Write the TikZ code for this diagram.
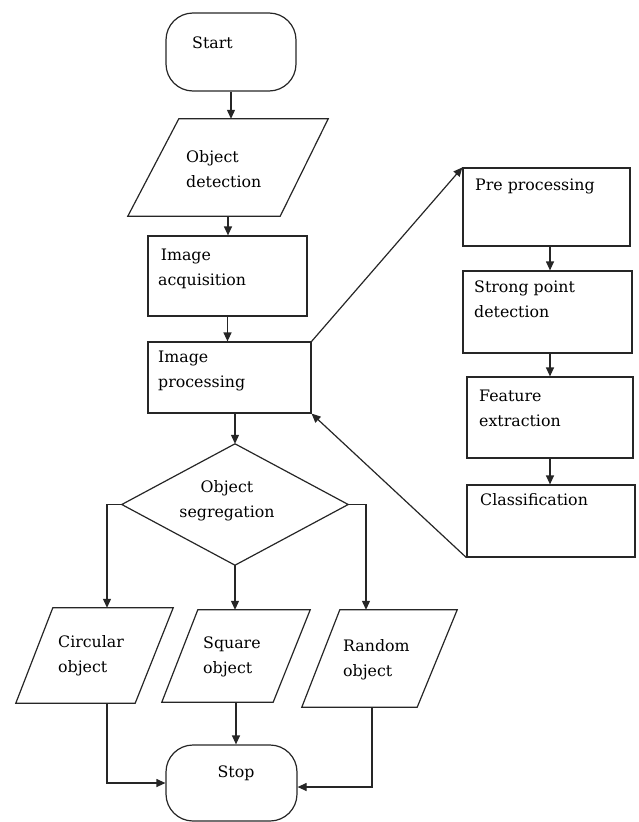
\documentclass[tikz,border=0pt]{standalone}
\usepackage{fontspec}
\setmainfont{DejaVu Serif}
\usetikzlibrary{arrows.meta,calc}
\begin{document}
\begin{tikzpicture}[x=1pt,y=-1pt,
  ln/.style={line width=1.2pt, draw=black!85},
  arr/.style={ln, -{Triangle[length=9pt,width=8pt]}},
  box/.style={ln, draw, rectangle, inner sep=0pt},
  term/.style={box, rounded corners=27pt},
  frame/.style={rectangle, inner sep=0pt},
  txt/.style={font=\fontsize{15.8}{25}\selectfont, align=left, inner sep=0pt, text=black, anchor=west}]
\useasboundingbox (0,0) rectangle (638,822);

% left column
\node[term, minimum width=130pt, minimum height=78pt] (start) at (231,52) {};
\node[txt] (startt) at (192,43) {Start};

\node[frame, minimum width=200pt, minimum height=97pt] (od) at (228,167.5) {};
\draw[ln] ([xshift=51pt]od.north west) -- (od.north east) -- ([xshift=-48pt]od.south east) -- (od.south west) -- cycle;
\node[txt] (odt) at (186,169.5) {Object\\detection};

\node[box, minimum width=159pt, minimum height=80pt] (ia) at (227.5,276) {};
\node[txt] (iat) at (158,269) {\,Image\\acquisition};

\node[box, minimum width=163pt, minimum height=71pt] (ip) at (229.5,377.5) {};
\node[txt] (ipt) at (158,371) {Image\\processing};

\node[frame, minimum width=226pt, minimum height=121pt] (seg) at (235,504.5) {};
\draw[ln] (seg.north) -- (seg.east) -- (seg.south) -- (seg.west) -- cycle;
\node[txt, align=center, anchor=center] (segt) at (227,501) {Object\\segregation};

\node[frame, minimum width=157pt, minimum height=95pt] (co) at (94.5,655.5) {};
\draw[ln] ([xshift=37pt]co.north west) -- (co.north east) -- ([xshift=-38pt]co.south east) -- (co.south west) -- cycle;
\node[txt] (cot) at (58,655.5) {Circular\\object};

\node[frame, minimum width=148pt, minimum height=92pt] (so) at (236,656) {};
\draw[ln] ([xshift=36pt]so.north west) -- (so.north east) -- ([xshift=-37pt]so.south east) -- (so.south west) -- cycle;
\node[txt] (sot) at (203,657) {Square\\object};

\node[frame, minimum width=155pt, minimum height=97pt] (ro) at (379.5,658.5) {};
\draw[ln] ([xshift=38pt]ro.north west) -- (ro.north east) -- ([xshift=-40pt]ro.south east) -- (ro.south west) -- cycle;
\node[txt] (rot) at (343,659.5) {Random\\object};

\node[term, minimum width=131pt, minimum height=76pt] (stop) at (231.5,783) {};
\node[txt, anchor=center] (stopt) at (236,773) {Stop};

% right column
\node[box, minimum width=167pt, minimum height=78pt] (pre) at (546.5,207) {};
\node[txt] (pret) at (475,186) {Pre processing};

\node[box, minimum width=169pt, minimum height=82pt] (sp) at (547.5,312) {};
\node[txt] (spt) at (474,299.5) {Strong point\\detection};

\node[box, minimum width=166pt, minimum height=81pt] (fe) at (550,417.5) {};
\node[txt] (fet) at (479,408) {Feature\\extraction};

\node[box, minimum width=168pt, minimum height=72pt] (cl) at (551,521) {};
\node[txt] (clt) at (480,500) {Classification};

% connectors
\draw[arr] (start.south) -- (start.south |- od.north);
\draw[arr] (od.south) -- (od.south |- ia.north);
\draw[arr] (ia.south) -- (ia.south |- ip.north);
\draw[arr] (seg.north |- ip.south) -- (seg.north);
\draw[arr] (seg.west) -| ([xshift=12.5pt]co.north);
\draw[arr] (seg.east) -| ([xshift=-13.5pt]ro.north);
\draw[arr] (seg.south) -- (seg.south |- so.north);
\draw[arr] ([xshift=12.5pt]co.south) |- (stop.west);
\draw[arr] (so.south) -- (so.south |- stop.north);
\draw[arr] ([xshift=-7.5pt]ro.south) |- ([yshift=-4pt]stop.east);

\draw[arr] (fe.north |- pre.south) -- (fe.north |- sp.north);
\draw[arr] (fe.north |- sp.south) -- (fe.north);
\draw[arr] (fe.south) -- (fe.south |- cl.north);

\draw[arr] (ip.north east) -- (pre.north west);
\draw[arr] (cl.south west) -- (ip.south east);
\end{tikzpicture}
\end{document}
